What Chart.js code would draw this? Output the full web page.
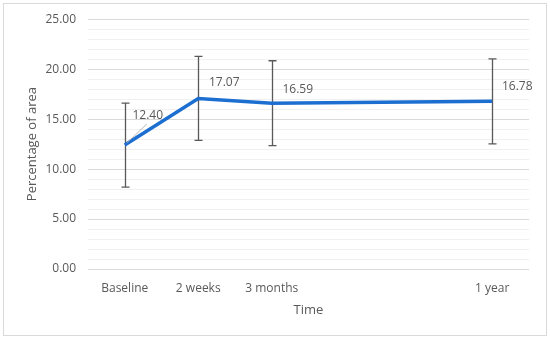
<!DOCTYPE html>
<html>
<head>
<meta charset="utf-8">
<script src="https://cdn.jsdelivr.net/npm/chart.js@4.4.1/dist/chart.umd.min.js"></script>
<style>
  html, body { margin: 0; padding: 0; background: #fff; }
  #wrap { width: 550px; height: 340px; }
</style>
</head>
<body>
<div id="wrap"><canvas id="areaChart" width="550" height="340"></canvas></div>
<script>
// time points (two empty slots keep the gap before "1 year")
const categories = ['Baseline', '2 weeks', '3 months', '', '', '1 year'];
const meanValues = [12.40, 17.07, 16.59, null, null, 16.78];
const errorValues = [4.2, 4.2, 4.25, null, null, 4.25];
const yTickLabels = ['0.00', '5.00', '10.00', '15.00', '20.00', '25.00'];

const TEXT_COLOR = '#595959';
const FONT = "'Open Sans', 'Liberation Sans', sans-serif";

// light frame round the whole chart
const framePlugin = {
  id: 'frame',
  beforeDraw(chart) {
    const c = chart.ctx;
    c.save();
    c.fillStyle = '#fff';
    c.fillRect(0, 0, chart.width, chart.height);
    c.strokeStyle = '#D9D9D9';
    c.lineWidth = 1;
    c.strokeRect(3.5, 3.5, 543, 332);
    c.restore();
  }
};

const errorBarPlugin = {
  id: 'errorBars',
  beforeDatasetsDraw(chart) {
    const c = chart.ctx;
    const xs = chart.scales.x, ys = chart.scales.y;
    c.save();
    c.strokeStyle = '#595959';
    c.lineWidth = 1.3;
    meanValues.forEach((v, i) => {
      if (v === null) return;
      const x = Math.round(xs.getPixelForValue(i)) + 0.5;
      const top = ys.getPixelForValue(v + errorValues[i]);
      const bot = ys.getPixelForValue(v - errorValues[i]);
      c.beginPath();
      c.moveTo(x, top); c.lineTo(x, bot);
      c.moveTo(x - 4, top); c.lineTo(x + 4, top);
      c.moveTo(x - 4, bot); c.lineTo(x + 4, bot);
      c.stroke();
    });
    c.restore();
  }
};

const valueLabelPlugin = {
  id: 'valueLabels',
  afterDatasetsDraw(chart, args, opts) {
    const c = chart.ctx;
    const meta = chart.getDatasetMeta(0);
    c.save();
    c.font = '12px ' + FONT;
    c.fillStyle = TEXT_COLOR;
    c.textAlign = 'center';
    c.textBaseline = 'middle';
    let k = 0;
    meanValues.forEach((v, i) => {
      if (v === null) return;
      const pt = meta.data[i];
      const [dx, dy] = opts.offsets[k++];
      if (Math.abs(dy) > 20) {
        // leader line for the moved label
        c.strokeStyle = '#A6A6A6';
        c.lineWidth = 0.8;
        c.beginPath();
        c.moveTo(pt.x + 2, pt.y - 2);
        c.lineTo(pt.x + dx - 1, pt.y + dy + 9);
        c.stroke();
      }
      c.fillText(v.toFixed(2), pt.x + dx, pt.y + dy);
    });
    c.restore();
  }
};

new Chart(document.getElementById('areaChart'), {
  type: 'line',
  data: {
    labels: categories,
    datasets: [{
      data: meanValues,
      borderColor: '#1C6FD1',
      borderWidth: 3.5,
      pointRadius: 0,
      tension: 0,
      spanGaps: true,
      fill: false
    }]
  },
  plugins: [framePlugin, errorBarPlugin, valueLabelPlugin],
  options: {
    responsive: false,
    animation: false,
    layout: { padding: { top: 19, right: 21, bottom: 0, left: 0 } },
    plugins: {
      legend: { display: false },
      tooltip: { enabled: false },
      valueLabels: { offsets: [[23, -30], [26, -16], [26, -14], [25, -15]] }
    },
    scales: {
      x: {
        offset: true,
        grid: { display: false, drawTicks: false },
        border: { display: false },
        ticks: { color: TEXT_COLOR, font: { family: FONT, size: 12 }, padding: 12, maxRotation: 0, autoSkip: false },
        title: { display: true, text: 'Time', color: TEXT_COLOR, font: { family: FONT, size: 13 }, padding: { top: 4, bottom: 22 } },
        afterFit(scale) { scale.height = 71; }
      },
      y: {
        min: 0,
        max: 25,
        ticks: {
          stepSize: 1,
          autoSkip: false,
          color: TEXT_COLOR,
          font: { family: FONT, size: 12 },
          padding: 12,
          callback: v => (v % 5 === 0 ? yTickLabels[v / 5] : '')
        },
        grid: {
          drawTicks: false,
          color: ctx => (ctx.tick.value % 5 === 0 ? '#D9D9D9' : '#F0F0F0')
        },
        border: { display: false },
        title: { display: true, text: 'Percentage of area', color: TEXT_COLOR, font: { family: FONT, size: 13 }, padding: { top: 24 } },
        afterFit(scale) { scale.width = 88; }
      }
    }
  }
});
</script>
</body>
</html>
